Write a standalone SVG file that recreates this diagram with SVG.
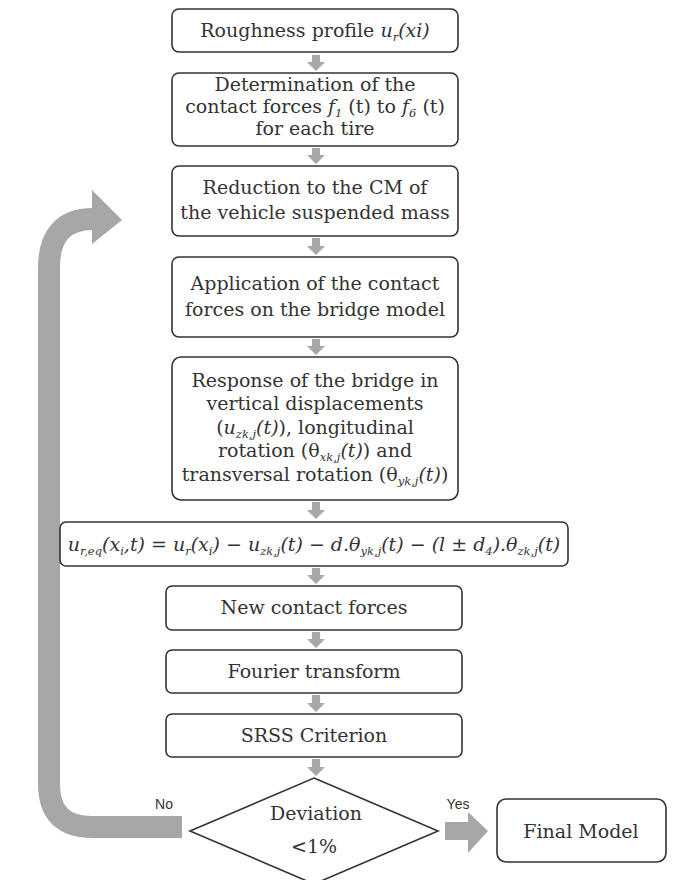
<svg xmlns="http://www.w3.org/2000/svg" width="675" height="880" viewBox="0 0 675 880">
<style>
.box{fill:#fff;stroke:#333;stroke-width:1.6}
.t{font-family:'DejaVu Serif','Liberation Serif',serif;font-size:19px;fill:#333;text-anchor:middle}
.i{font-style:italic}
.s{font-size:11.5px;font-style:italic}
.lab{font-family:'Liberation Sans',Arial,sans-serif;font-size:14px;fill:#333;text-anchor:middle}
.arr{fill:#a6a7a9}
</style>
<g id="connectors">
<path class="arr" d="M312 55h8v7h5l-9 9l-9-9h5z"/>
<path class="arr" d="M312 148h8v7h5l-9 9l-9-9h5z"/>
<path class="arr" d="M312 238h8v8h5l-9 9l-9-9h5z"/>
<path class="arr" d="M312 339h8v7h5l-9 9l-9-9h5z"/>
<path class="arr" d="M312 502h8v8h5l-9 9l-9-9h5z"/>
<path class="arr" d="M312 568h8v7h5l-9 9l-9-9h5z"/>
<path class="arr" d="M312 632h8v7h5l-9 9l-9-9h5z"/>
<path class="arr" d="M312 695h8v8h5l-9 9l-9-9h5z"/>
<path class="arr" d="M312 759h8v8h5l-9 9l-9-9h5z"/>
<path d="M182 827H92Q49 827 49 784V268Q49 219 93 219" fill="none" stroke="#a6a7a9" stroke-width="22"/>
<polygon class="arr" points="92,190 122,220 92,244"/>
<polygon class="arr" points="445,822 468,822 468,812 488,831 468,853 468,840 445,840"/>
<text class="lab" x="164" y="809">No</text>
<text class="lab" x="458" y="809">Yes</text>
</g>
<g id="n1"><rect class="box" x="172" y="9" width="286" height="43" rx="7"/>
<text class="t" x="315" y="37">Roughness profile <tspan class="i">u</tspan><tspan class="s" dy="4">r</tspan><tspan class="i" dy="-4">(xi)</tspan></text></g>
<g id="n2"><rect class="box" x="172" y="73" width="286" height="73" rx="7"/>
<text class="t" x="315" y="91">Determination of the</text>
<text class="t" x="315" y="113">contact forces <tspan class="i">f</tspan><tspan class="s" dy="4">1</tspan><tspan dy="-4">  (t) to </tspan><tspan class="i">f</tspan><tspan class="s" dy="4">6</tspan><tspan dy="-4">  (t)</tspan></text>
<text class="t" x="315" y="135">for each tire</text></g>
<g id="n3"><rect class="box" x="172" y="166" width="286" height="70" rx="7"/>
<text class="t" x="315" y="194">Reduction to the CM of</text>
<text class="t" x="315" y="219">the  vehicle suspended mass</text></g>
<g id="n4"><rect class="box" x="172" y="257" width="286" height="80" rx="7"/>
<text class="t" x="315" y="290">Application of the contact</text>
<text class="t" x="315" y="316">forces on the bridge model</text></g>
<g id="n5"><rect class="box" x="172" y="357" width="286" height="143" rx="9"/>
<text class="t" x="315" y="387">Response of the bridge in</text>
<text class="t" x="315" y="410">vertical displacements</text>
<text class="t" x="315" y="434">(<tspan class="i">u</tspan><tspan class="s" dy="4">zk,j</tspan><tspan class="i" dy="-4">(t)</tspan>), longitudinal</text>
<text class="t" x="315" y="457">rotation (θ<tspan class="s" dy="4">xk,j</tspan><tspan class="i" dy="-4">(t)</tspan>) and</text>
<text class="t" x="315" y="481">transversal rotation (θ<tspan class="s" dy="4">yk,j</tspan><tspan class="i" dy="-4">(t)</tspan>)</text></g>
<g id="n6"><rect class="box" x="60" y="522" width="508" height="44" rx="6"/>
<text class="t i" x="314" y="551">u<tspan class="s" dy="4">r,eq</tspan><tspan dy="-4">(x</tspan><tspan class="s" dy="4">i</tspan><tspan dy="-4">,t) = u</tspan><tspan class="s" dy="4">r</tspan><tspan dy="-4">(x</tspan><tspan class="s" dy="4">i</tspan><tspan dy="-4">) − u</tspan><tspan class="s" dy="4">zk,j</tspan><tspan dy="-4">(t) − d.θ</tspan><tspan class="s" dy="4">yk,j</tspan><tspan dy="-4">(t) − (l ± d</tspan><tspan class="s" dy="4">4</tspan><tspan dy="-4">).θ</tspan><tspan class="s" dy="4">zk,j</tspan><tspan dy="-4">(t)</tspan></text></g>
<g id="n7"><rect class="box" x="166" y="586" width="296" height="44" rx="6"/>
<text class="t" x="314" y="614">New contact forces</text></g>
<g id="n8"><rect class="box" x="166" y="650" width="296" height="43" rx="6"/>
<text class="t" x="314" y="678">Fourier transform</text></g>
<g id="n9"><rect class="box" x="166" y="714" width="296" height="43" rx="6"/>
<text class="t" x="314" y="742">SRSS Criterion</text></g>
<g id="n10"><polygon class="box" points="314,778 438,831 314,884 190,831"/>
<text class="t" x="316" y="820">Deviation</text>
<text class="t" x="314" y="853">&lt;1%</text></g>
<g id="n11"><rect class="box" x="497" y="799" width="169" height="63" rx="9"/>
<text class="t" x="581" y="838">Final Model</text></g>
</svg>
